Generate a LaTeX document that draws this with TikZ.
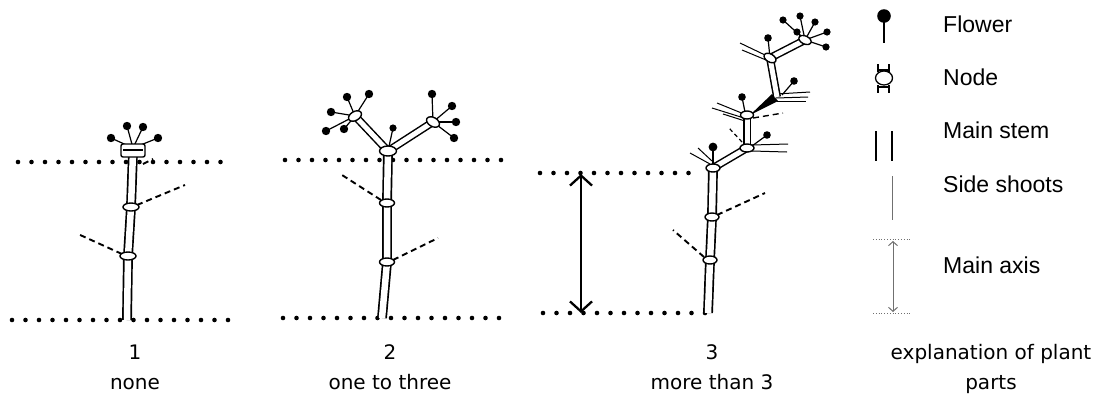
\documentclass[tikz,border=0pt]{standalone}
\usepackage{fontspec}
\setmainfont{DejaVu Sans}
\newfontfamily\legendfont{Liberation Sans}
\usetikzlibrary{arrows.meta}
\definecolor{ShootGray}{HTML}{707070}

\begin{document}
\begin{tikzpicture}[x=1pt, y=-1pt,
    stem/.style={double, double distance=6.5pt, line width=1.7pt},
    branch/.style={double, double distance=5pt, line width=1.5pt},
    ring/.style={fill=white, draw=black, line width=1.4pt},
    stalk/.style={line width=1.2pt},
    twig/.style={line width=1pt},
    shoot/.style={line width=1.9pt, dash pattern=on 6pt off 4pt},
    dotrow/.style={line width=4.6pt, line cap=round, dash pattern=on 0pt off 13.5pt},
    axisarrow/.style={line width=2.3pt, {Straight Barb[length=10pt,width=22pt]}-{Straight Barb[length=10pt,width=22pt]}},
    caption/.style={anchor=base, inner sep=0pt, font=\fontsize{20}{24}\selectfont},
    legend/.style={anchor=base west, inner sep=0pt, font=\legendfont\fontsize{23}{27}\selectfont}]
  \useasboundingbox (0,0) rectangle (1097,394);

  % Plant 1
  \draw[dotrow] (18,162) -- (232,162);
  \draw[dotrow] (12,320) -- (237,320);
  \coordinate (b1) at (127,320);
  \coordinate (n1a) at (128,256);
  \coordinate (n1b) at (131,207);
  \coordinate (t1) at (133,152);
  \draw[stem] (b1) -- (n1a) -- (n1b) -- (t1);
  \draw[shoot] (137,205) -- (185,185);
  \draw[shoot] (122,254) -- (78,234);
  \draw[shoot] (143,164) -- (153,159);
  \foreach \p in {(111,138),(127,126),(143,127),(158,138)} {
    \draw[stalk] (133,148) -- \p;
    \fill \p circle (4.2pt);
  }
  \draw[ring, rounded corners=2pt] (121,144) rectangle (145,157);
  \draw[line width=1.1pt] (123,150) -- (143,150);
  \draw[ring] (n1a) ellipse (8pt and 4pt);
  \draw[ring] (n1b) ellipse (8pt and 4pt);

  % Plant 2
  \draw[dotrow] (285,160) -- (503,160);
  \draw[dotrow] (283,318) -- (500,318);
  \coordinate (b2) at (382,318);
  \coordinate (n2a) at (387,262);
  \coordinate (n2b) at (387,203);
  \coordinate (f2) at (388,151);
  \coordinate (l2) at (355,116);
  \coordinate (r2) at (433,122);
  \draw[stem] (b2) -- (n2a) -- (n2b) -- (f2);
  \draw[branch] (f2) -- (l2);
  \draw[branch] (f2) -- (r2);
  \draw[shoot] (381,200) -- (342,175);
  \draw[shoot] (393,260) -- (438,238);
  \foreach \p in {(347,97),(369,94),(331,112),(326,131),(344,129)} {
    \draw[stalk] (l2) -- \p;
    \fill \p circle (4.2pt);
  }
  \foreach \p in {(432,94),(452,106),(456,122),(454,138)} {
    \draw[stalk] (r2) -- \p;
    \fill \p circle (4.2pt);
  }
  \draw[stalk] (f2) -- (393,128);
  \fill (393,128) circle (3.6pt);
  \draw[ring] (f2) ellipse (8.5pt and 5pt);
  \draw[ring, rotate around={30:(l2)}] (l2) ellipse (7pt and 4.5pt);
  \draw[ring, rotate around={-30:(r2)}] (r2) ellipse (7pt and 4.5pt);
  \draw[ring] (n2a) ellipse (7.5pt and 4pt);
  \draw[ring] (n2b) ellipse (7.5pt and 4pt);

  % Plant 3
  \draw[dotrow] (540,173) -- (702,173);
  \draw[dotrow] (543,313) -- (712,313);
  \coordinate (ax3top) at (581,174);
  \coordinate (ax3bot) at (581,313);
  \draw[axisarrow] (ax3top) -- (ax3bot);
  \coordinate (b3) at (708,313);
  \coordinate (n3a) at (710,260);
  \coordinate (n3b) at (712,217);
  \coordinate (n3c) at (713,168);
  \coordinate (n3d) at (747,148);
  \coordinate (n3e) at (747,115);
  \coordinate (n3f) at (777,97);
  \coordinate (n3g) at (770,58);
  \coordinate (n3h) at (805,40);
  \draw[stem] (b3) -- (n3a) -- (n3b) -- (n3c);
  \draw[shoot] (717,215) -- (765,193);
  \draw[shoot] (704,257) -- (673,230);
  % side shoots and flowers of the upper nodes
  \draw[twig] (710,164) -- (690,153);
  \draw[twig] (712,161) -- (698,148);
  \draw[stalk] (n3c) -- (713,147);
  \fill (713,147) circle (4.4pt);
  \draw[branch] (n3c) -- (n3d);
  \draw[twig] (752,145) -- (788,144);
  \draw[twig] (752,151) -- (787,152);
  \draw[stalk] (752,146) -- (767,135);
  \fill (767,135) circle (3.8pt);
  \draw[shoot, line width=1.2pt, dash pattern=on 4pt off 3pt] (742,142) -- (729,128);
  \draw[branch] (n3d) -- (n3e);
  \draw[twig] (744,118) -- (712,108);
  \draw[twig] (744,114) -- (717,103);
  \draw[twig] (745,121) -- (723,114);
  \draw[stalk] (745,112) -- (742,97);
  \fill (742,97) circle (3.8pt);
  \draw[shoot, line width=1.4pt] (753,118) -- (783,113);
  \fill (750,115) -- (772,94) -- (778,101) -- cycle;
  \draw[twig] (776,94) -- (810,92);
  \draw[twig] (776,98) -- (808,97);
  \draw[twig] (777,101) -- (806,101);
  \draw[stalk] (782,95) -- (794,81);
  \fill (794,81) circle (3.8pt);
  \draw[branch] (n3f) -- (n3g);
  \draw[twig] (765,55) -- (740,43);
  \draw[twig] (766,60) -- (742,50);
  \draw[stalk] (n3g) -- (768,38);
  \fill (768,38) circle (3.8pt);
  \draw[branch] (n3g) -- (n3h);
  \foreach \p in {(783,20),(800,16),(815,22),(827,32),(826,47),(797,32)} {
    \draw[stalk] (n3h) -- \p;
    \fill \p circle (3.6pt);
  }
  \draw[ring, rotate around={-25:(n3h)}] (n3h) ellipse (6.5pt and 4pt);
  \draw[ring, rotate around={-30:(n3g)}] (n3g) ellipse (6.5pt and 4pt);
  \draw[ring] (n3e) ellipse (6.5pt and 4pt);
  \draw[ring] (n3d) ellipse (7pt and 4pt);
  \draw[ring] (n3c) ellipse (7pt and 4pt);
  \draw[ring] (n3b) ellipse (7pt and 4pt);
  \draw[ring] (n3a) ellipse (7pt and 4pt);

  % Legend
  \draw[line width=1.6pt] (884,16) -- (884,43);
  \fill (884,16) circle (6.8pt);
  \draw[line width=1.3pt] (878,64) -- (878,72);
  \draw[line width=1.3pt] (889,64) -- (889,72);
  \draw[line width=1.3pt] (878,70) -- (889,70);
  \draw[line width=1.3pt] (878,85) -- (878,93);
  \draw[line width=1.3pt] (889,85) -- (889,93);
  \draw[line width=1.3pt] (878,87) -- (889,87);
  \draw[ring, line width=1.3pt] (884,78) ellipse (8.5pt and 7pt);
  \draw[line width=1.6pt] (876,131) -- (876,161);
  \draw[line width=1.6pt] (892,131) -- (892,161);
  \draw[ShootGray, line width=1pt] (892,176) -- (892,220);
  \draw[ShootGray, line width=0.8pt, dotted] (873,239) -- (912,239);
  \draw[ShootGray, line width=0.8pt, dotted] (873,313) -- (912,313);
  \coordinate (lgtop) at (893,241);
  \coordinate (lgbot) at (893,312);
  \draw[ShootGray, line width=1pt, {Straight Barb[length=4pt,width=9pt]}-{Straight Barb[length=4pt,width=9pt]}] (lgtop) -- (lgbot);
  \node[legend] (lflower) at (943,32) {Flower};
  \node[legend] (lnode) at (943,85) {Node};
  \node[legend] (lstem) at (943,138) {Main stem};
  \node[legend] (lshoot) at (943,192) {Side shoots};
  \node[legend] (laxis) at (943,273) {Main axis};

  % Captions
  \node[caption] (num1) at (135,359) {1};
  \node[caption] (txt1) at (135,389) {none};
  \node[caption] (num2) at (390,359) {2};
  \node[caption] (txt2) at (390,389) {one to three};
  \node[caption] (num3) at (712,359) {3};
  \node[caption] (txt3) at (712,389) {more than 3};
  \node[caption] (exp1) at (991,359) {explanation of plant};
  \node[caption] (exp2) at (991,389) {parts};
\end{tikzpicture}
\end{document}
